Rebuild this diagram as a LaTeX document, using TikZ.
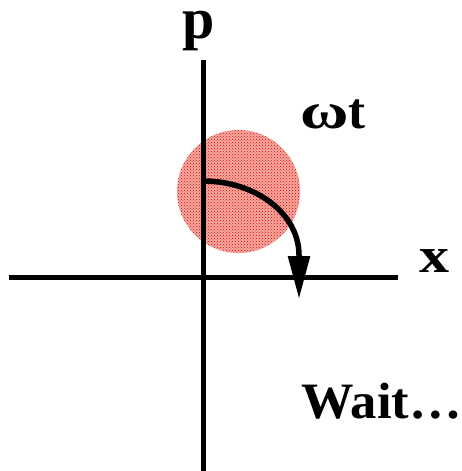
\documentclass[tikz,border=0pt]{standalone}
\usepackage{fontspec}
\usepackage{graphicx}
\setmainfont{Liberation Serif}
\usetikzlibrary{arrows.meta,patterns}
\begin{document}
\begin{tikzpicture}[x=1pt,y=-1pt,
  axis/.style={line width=5pt},
  lbl/.style={inner sep=0pt, anchor=base west},
  blob/.style={fill={rgb,255:red,246;green,170;blue,160}},
  rot/.style={line width=5.5pt, -{Triangle[width=21pt,length=43pt]}}]
\useasboundingbox (0,0) rectangle (461,471);
\fill[blob] (238.5,191.5) circle (61.5);
\fill[pattern=crosshatch dots, pattern color=red!85!black] (238.5,191.5) circle (61.5);
\coordinate (pt) at (203,60);
\coordinate (pb) at (203,471);
\coordinate (xl) at (9,277);
\coordinate (xr) at (398,277);
\coordinate (s) at (203,181);
\coordinate (m) at (299,255);
\coordinate (e) at (299,299);
\draw[axis] (pt) -- (pb);
\draw[axis] (xl) -- (xr);
\draw[rot] (s) .. controls (256,181) and (299,214) .. (m) -- (e);
\node[lbl, font=\bfseries\fontsize{58}{58}\selectfont] (plabel) at (182,38) {p};
\node[lbl, font=\bfseries\fontsize{50}{50}\selectfont, xscale=1.2] (xlabel) at (419,272) {x};
\node[lbl, font=\bfseries\fontsize{51}{51}\selectfont] (wt) at (300,128) {\scalebox{1.3}[1]{ω}t};
\node[lbl, font=\bfseries\fontsize{51}{51}\selectfont, xscale=1.03] (wait) at (301,418) {Wait…};
\end{tikzpicture}
\end{document}
